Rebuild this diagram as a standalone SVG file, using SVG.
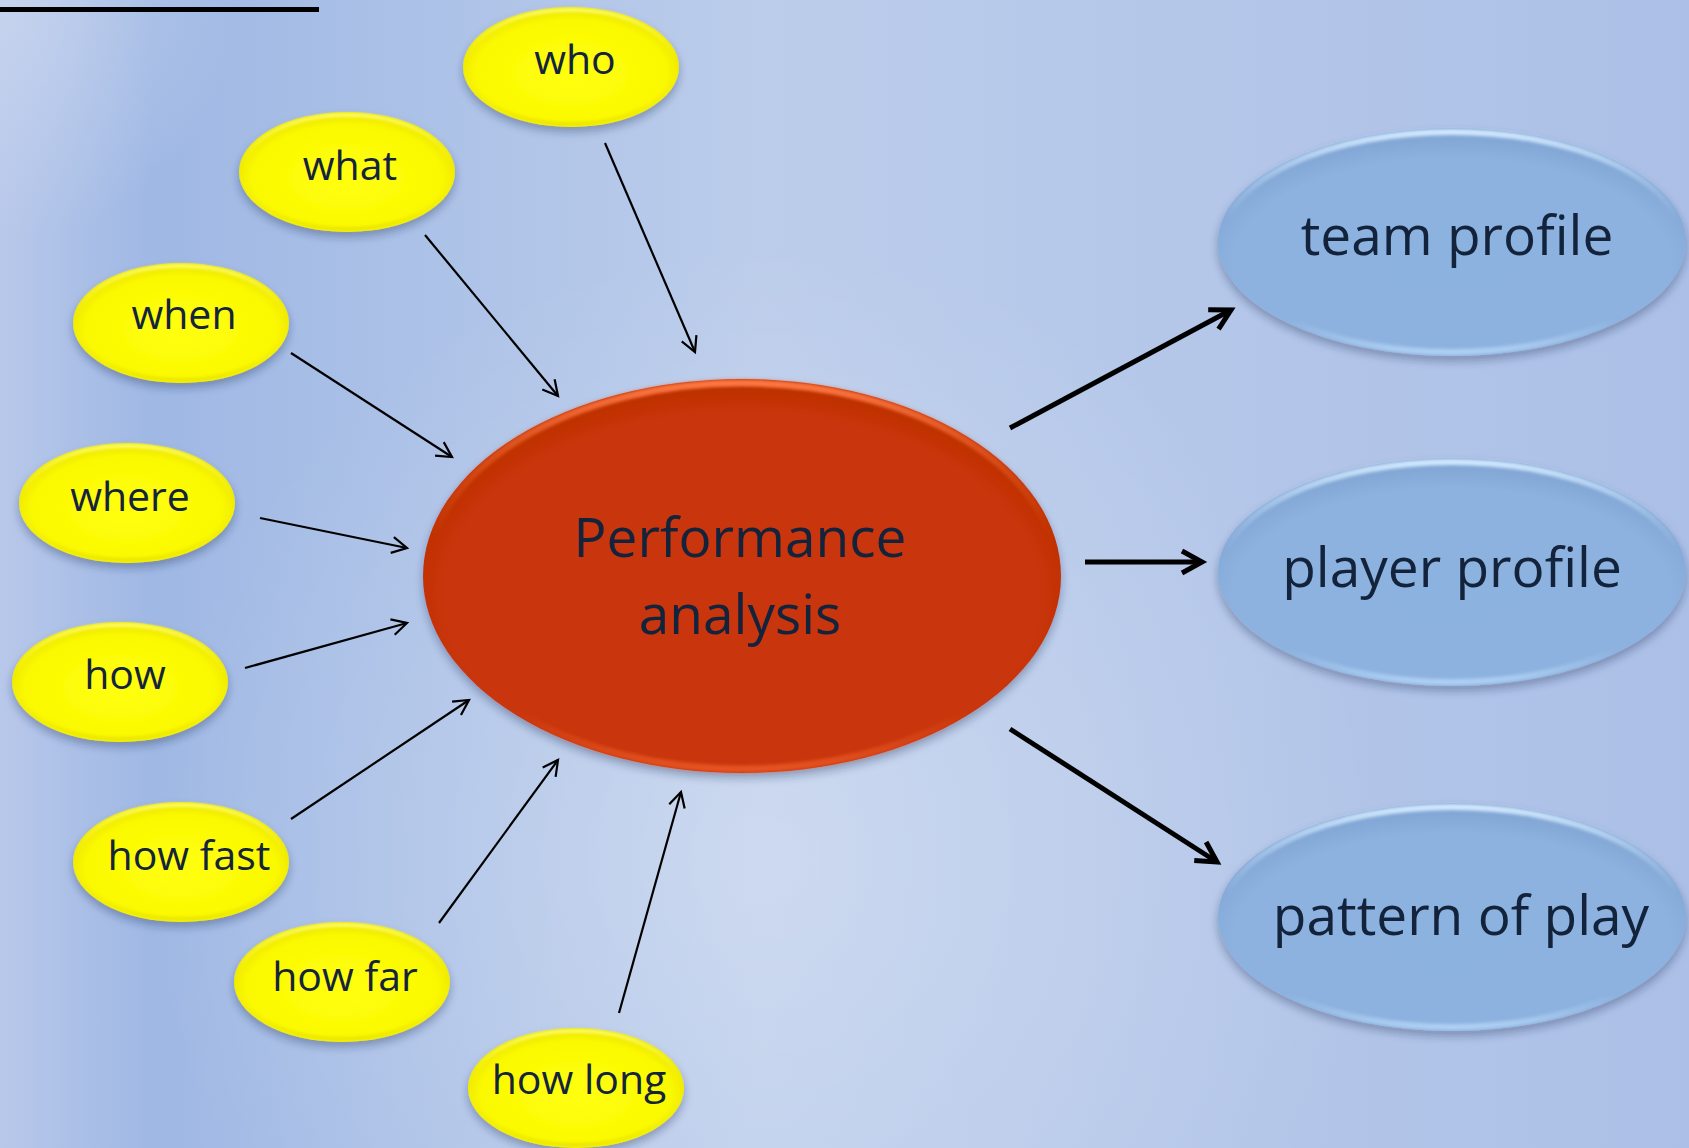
<svg xmlns="http://www.w3.org/2000/svg" width="1689" height="1148" viewBox="0 0 1689 1148">
<defs>
<linearGradient id="bg" x1="0" y1="0" x2="1" y2="0">
<stop offset="0" stop-color="#b8c8ea"/>
<stop offset="0.09" stop-color="#9fb8e4"/>
<stop offset="0.45" stop-color="#bccdeb"/>
<stop offset="1" stop-color="#acc0e7"/>
</linearGradient>
<radialGradient id="glow" cx="760" cy="860" r="620" gradientUnits="userSpaceOnUse">
<stop offset="0" stop-color="#ffffff" stop-opacity="0.25"/>
<stop offset="1" stop-color="#ffffff" stop-opacity="0"/>
</radialGradient>
<radialGradient id="tl" cx="0" cy="0" r="240" gradientUnits="userSpaceOnUse">
<stop offset="0" stop-color="#d0dbf1" stop-opacity="0.6"/>
<stop offset="1" stop-color="#d0dbf1" stop-opacity="0"/>
</radialGradient>
<radialGradient id="yel" cx="0.5" cy="0.55" r="0.55">
<stop offset="0" stop-color="#ffff10"/>
<stop offset="0.8" stop-color="#fbf900"/>
<stop offset="1" stop-color="#e8e000"/>
</radialGradient>
<linearGradient id="yelRim" x1="0" y1="0" x2="0" y2="1">
<stop offset="0" stop-color="#ffff70" stop-opacity="0.9"/>
<stop offset="0.45" stop-color="#ffff40" stop-opacity="0"/>
<stop offset="1" stop-color="#d8d000" stop-opacity="0.5"/>
</linearGradient>
<radialGradient id="red" cx="0.5" cy="0.55" r="0.55">
<stop offset="0" stop-color="#c93507"/>
<stop offset="0.85" stop-color="#c93507"/>
<stop offset="1" stop-color="#b82d05"/>
</radialGradient>
<linearGradient id="redRim" x1="0" y1="0" x2="0" y2="1">
<stop offset="0" stop-color="#ff7a45" stop-opacity="0.95"/>
<stop offset="0.4" stop-color="#e85a20" stop-opacity="0"/>
<stop offset="0.85" stop-color="#e85a20" stop-opacity="0"/>
<stop offset="1" stop-color="#f06028" stop-opacity="0.7"/>
</linearGradient>
<radialGradient id="blue" cx="0.5" cy="0.6" r="0.55">
<stop offset="0" stop-color="#8cb2df"/>
<stop offset="0.85" stop-color="#8db2df"/>
<stop offset="1" stop-color="#84a8d6"/>
</radialGradient>
<linearGradient id="blueRim" x1="0" y1="0" x2="0" y2="1">
<stop offset="0" stop-color="#d4ebff" stop-opacity="0.95"/>
<stop offset="0.4" stop-color="#b0d0f4" stop-opacity="0"/>
<stop offset="0.85" stop-color="#b0d0f4" stop-opacity="0"/>
<stop offset="1" stop-color="#bcdcfc" stop-opacity="0.7"/>
</linearGradient>
<filter id="sh" x="-10%" y="-10%" width="120%" height="130%">
<feDropShadow dx="0" dy="5" stdDeviation="4" flood-color="#1a2a50" flood-opacity="0.35"/>
</filter>
<filter id="soft" x="-5%" y="-5%" width="110%" height="110%">
<feGaussianBlur stdDeviation="1.5"/>
</filter>
<marker id="thin" markerUnits="userSpaceOnUse" markerWidth="30" markerHeight="30" viewBox="-20 -15 30 30" refX="0" refY="0" orient="auto">
<path d="M-15,-8 L0,0 L-15,8" fill="none" stroke="#000" stroke-width="2.2"/>
</marker>
<marker id="thick" markerUnits="userSpaceOnUse" markerWidth="40" markerHeight="40" viewBox="-28 -20 40 40" refX="0" refY="0" orient="auto">
<path d="M-20,-11 L0,0 L-20,11" fill="none" stroke="#000" stroke-width="5"/>
</marker>
</defs>
<style>
.y{fill:url(#yel);filter:url(#sh)}
.yr{fill:none;stroke:url(#yelRim);stroke-width:4;filter:url(#soft)}
.ty{font-family:"Open Sans","Noto Sans",sans-serif;font-size:41px;fill:#14243c;text-anchor:middle}
.tb{font-family:"Open Sans","Noto Sans",sans-serif;font-size:55px;fill:#13233b;text-anchor:middle}
.c1{stroke:#000;stroke-width:2.2;fill:none;marker-end:url(#thin)}
.c2{stroke:#000;stroke-width:5;fill:none;marker-end:url(#thick)}
.br{fill:none;stroke:url(#blueRim);stroke-width:6;filter:url(#soft)}
</style>
<rect width="1689" height="1148" fill="url(#bg)"/>
<rect width="1689" height="1148" fill="url(#glow)"/>
<rect width="1689" height="1148" fill="url(#tl)"/>
<rect x="0" y="7" width="319" height="5" fill="#000"/>

<g id="connectors">
<line class="c1" x1="605" y1="143" x2="695" y2="352"/>
<line class="c1" x1="425" y1="235" x2="558" y2="396"/>
<line class="c1" x1="291" y1="353" x2="452" y2="457"/>
<line class="c1" x1="260" y1="518" x2="407" y2="548"/>
<line class="c1" x1="245" y1="668" x2="407" y2="623"/>
<line class="c1" x1="291" y1="819" x2="469" y2="700"/>
<line class="c1" x1="439" y1="923" x2="558" y2="760"/>
<line class="c1" x1="619" y1="1013" x2="681" y2="792"/>
<line class="c2" x1="1010" y1="428" x2="1231" y2="310"/>
<line class="c2" x1="1085" y1="562" x2="1202" y2="562"/>
<line class="c2" x1="1010" y1="729" x2="1217" y2="862"/>
</g>

<g id="node-who"><ellipse class="y" cx="571" cy="67" rx="108" ry="60"/><ellipse class="yr" cx="571" cy="67" rx="105" ry="57"/><text class="ty" x="575" y="74">who</text></g>
<g id="node-what"><ellipse class="y" cx="347" cy="172" rx="108" ry="60"/><ellipse class="yr" cx="347" cy="172" rx="105" ry="57"/><text class="ty" x="350" y="180">what</text></g>
<g id="node-when"><ellipse class="y" cx="181" cy="323" rx="108" ry="60"/><ellipse class="yr" cx="181" cy="323" rx="105" ry="57"/><text class="ty" x="184" y="329">when</text></g>
<g id="node-where"><ellipse class="y" cx="127" cy="503" rx="108" ry="60"/><ellipse class="yr" cx="127" cy="503" rx="105" ry="57"/><text class="ty" x="130" y="511">where</text></g>
<g id="node-how"><ellipse class="y" cx="120" cy="682" rx="108" ry="60"/><ellipse class="yr" cx="120" cy="682" rx="105" ry="57"/><text class="ty" x="125" y="689">how</text></g>
<g id="node-howfast"><ellipse class="y" cx="181" cy="862" rx="108" ry="60"/><ellipse class="yr" cx="181" cy="862" rx="105" ry="57"/><text class="ty" x="189" y="870">how fast</text></g>
<g id="node-howfar"><ellipse class="y" cx="342" cy="982" rx="108" ry="60"/><ellipse class="yr" cx="342" cy="982" rx="105" ry="57"/><text class="ty" x="345" y="991">how far</text></g>
<g id="node-howlong"><ellipse class="y" cx="576" cy="1088" rx="108" ry="60"/><ellipse class="yr" cx="576" cy="1088" rx="105" ry="57"/><text class="ty" x="579" y="1094">how long</text></g>

<g id="node-performance">
<ellipse cx="742" cy="576" rx="319" ry="197" fill="url(#red)" filter="url(#sh)"/>
<ellipse cx="742" cy="576" rx="315" ry="193" fill="none" stroke="url(#redRim)" stroke-width="7" filter="url(#soft)"/>
<text class="tb" x="740" y="557">Performance</text>
<text class="tb" x="740" y="634">analysis</text>
</g>

<g id="node-team">
<ellipse cx="1452" cy="242" rx="234" ry="114" fill="url(#blue)" filter="url(#sh)"/>
<ellipse class="br" cx="1452" cy="242" rx="230" ry="110"/>
<text class="tb" x="1457" y="255">team profile</text>
</g>
<g id="node-player">
<ellipse cx="1452" cy="572" rx="234" ry="114" fill="url(#blue)" filter="url(#sh)"/>
<ellipse class="br" cx="1452" cy="572" rx="230" ry="110"/>
<text class="tb" x="1452" y="587">player profile</text>
</g>
<g id="node-pattern">
<ellipse cx="1452" cy="917" rx="234" ry="114" fill="url(#blue)" filter="url(#sh)"/>
<ellipse class="br" cx="1452" cy="917" rx="230" ry="110"/>
<text class="tb" x="1461" y="935">pattern of play</text>
</g>
</svg>
